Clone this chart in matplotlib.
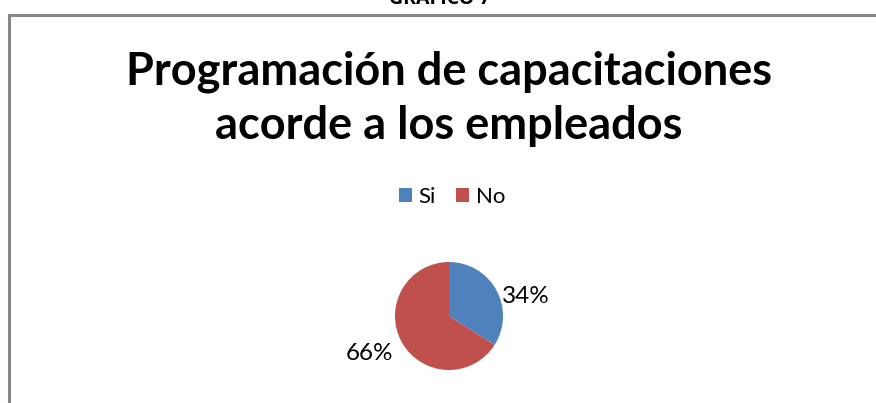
import matplotlib.pyplot as plt
from matplotlib.patches import Rectangle

# respuestas de la encuesta
categorias = ["Si", "No"]
porcentajes = [34, 66]
colores = ["#4F81BD", "#C0504D"]

W, H = 876, 403
fig = plt.figure(figsize=(W / 100, H / 100), dpi=100)
fig.patch.set_facecolor("white")

# marco del grafico (se sale por la derecha y por abajo)
fig.patches.append(Rectangle((9 / W, -0.05), 1.0, (H - 15) / H + 0.05,
                             transform=fig.transFigure, fill=False,
                             edgecolor="#868686", linewidth=2.2))

# encabezado cortado arriba
fig.text(440 / W, 1 + 1 / H, "GRAFICO 7", ha="center", va="center",
         fontsize=14, fontweight="bold", family="Open Sans")

fig.text(449 / W, 1 - 99 / H, "Programación de capacitaciones\nacorde a los empleados",
         ha="center", va="center", fontsize=32.5, fontweight="bold",
         family="Lato", linespacing=1.36)

# pastel
r = 54
cx, cy = 449, H - 316
ax = fig.add_axes([(cx - r) / W, (cy - r) / H, 2 * r / W, 2 * r / H])
wedges, textos = ax.pie(porcentajes, colors=colores, startangle=90,
                        counterclock=False, labels=[f"{p}%" for p in porcentajes],
                        labeldistance=1.4,
                        textprops=dict(fontsize=17.5, family="Lato"),
                        wedgeprops=dict(linewidth=0))
ax.set_xlim(-1, 1)
ax.set_ylim(-1, 1)
ax.set_aspect("equal")
textos[0].set_position((1.42, 0.36))
textos[0].set_ha("center")
textos[1].set_position((-1.47, -0.69))
textos[1].set_ha("center")

# leyenda
fig.legend(wedges, categorias, loc="center", bbox_to_anchor=(452 / W, 1 - 197 / H),
           ncol=2, frameon=False, handlelength=0.6, handleheight=0.6,
           handletextpad=0.3, columnspacing=0.9,
           prop=dict(family="Lato", size=16))

fig.savefig("out.png", dpi=100)
